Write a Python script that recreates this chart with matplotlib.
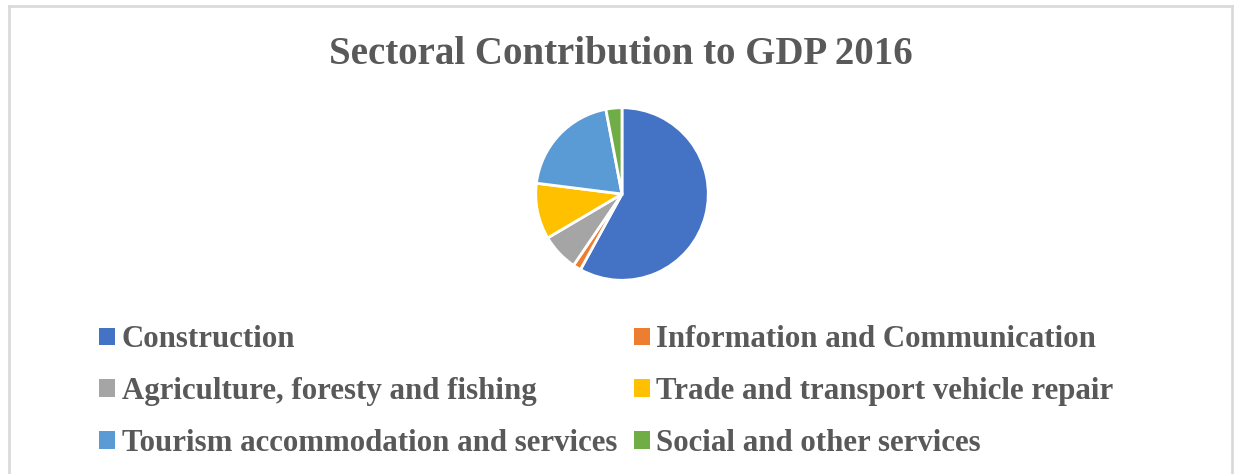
import matplotlib
matplotlib.use("Agg")
import matplotlib.pyplot as plt
from matplotlib.patches import Patch
from matplotlib.lines import Line2D

sectors = [
    "Construction",
    "Information and Communication",
    "Agriculture, foresty and fishing",
    "Trade and transport vehicle repair",
    "Tourism accommodation and services",
    "Social and other services",
]
shares = [58.0, 1.5, 7.0, 10.5, 20.0, 3.0]
colors = ["#4472C4", "#ED7D31", "#A5A5A5", "#FFC000", "#5B9BD5", "#70AD47"]
title = "Sectoral Contribution to GDP 2016"

W, H = 1238, 474
fig = plt.figure(figsize=(W / 100, H / 100), dpi=100)
fig.patch.set_facecolor("white")

# light gray frame (open at the bottom)
frame_col = "#dadada"
x0, x1, y_top = 9 / W, 1232 / W, 1 - 6 / H
fig.add_artist(Line2D([x0, x1], [y_top, y_top], transform=fig.transFigure, color=frame_col, lw=2))
fig.add_artist(Line2D([x0, x0], [0, y_top], transform=fig.transFigure, color=frame_col, lw=2))
fig.add_artist(Line2D([x1, x1], [0, y_top], transform=fig.transFigure, color=frame_col, lw=2))

text_col = "#595959"
font = "Liberation Serif"

fig.text(621 / W, 1 - 54 / H, title, ha="center", va="center",
         fontsize=28, fontweight="bold", color=text_col, family=font)

# pie, drawn clockwise from 12 o'clock
cx, cy, r = 622, 194, 88
ax = fig.add_axes([(cx - r) / W, (H - cy - r) / H, 2 * r / W, 2 * r / H])
ax.pie(shares, colors=colors, startangle=90, counterclock=False, radius=1.0,
       wedgeprops=dict(edgecolor="white", linewidth=2))
ax.set_xlim(-1.02, 1.02)
ax.set_ylim(-1.02, 1.02)
ax.set_aspect("equal")
ax.axis("off")

# legend entries in row-major order across two columns
order = [0, 2, 4, 1, 3, 5]
handles = [Patch(facecolor=colors[i], edgecolor="none") for i in order]
labels = [sectors[i] for i in order]
leg = fig.legend(handles, labels, ncol=2, loc="upper left",
                 bbox_to_anchor=(87 / W, 1 - 313 / H), borderaxespad=0,
                 frameon=False, handlelength=0.5, handleheight=0.5,
                 handletextpad=0.22, columnspacing=0.56, labelspacing=0.74,
                 prop=dict(family=font, weight="bold", size=22.2))
for t in leg.get_texts():
    t.set_color(text_col)

fig.savefig("out.png", dpi=100, facecolor="white")
